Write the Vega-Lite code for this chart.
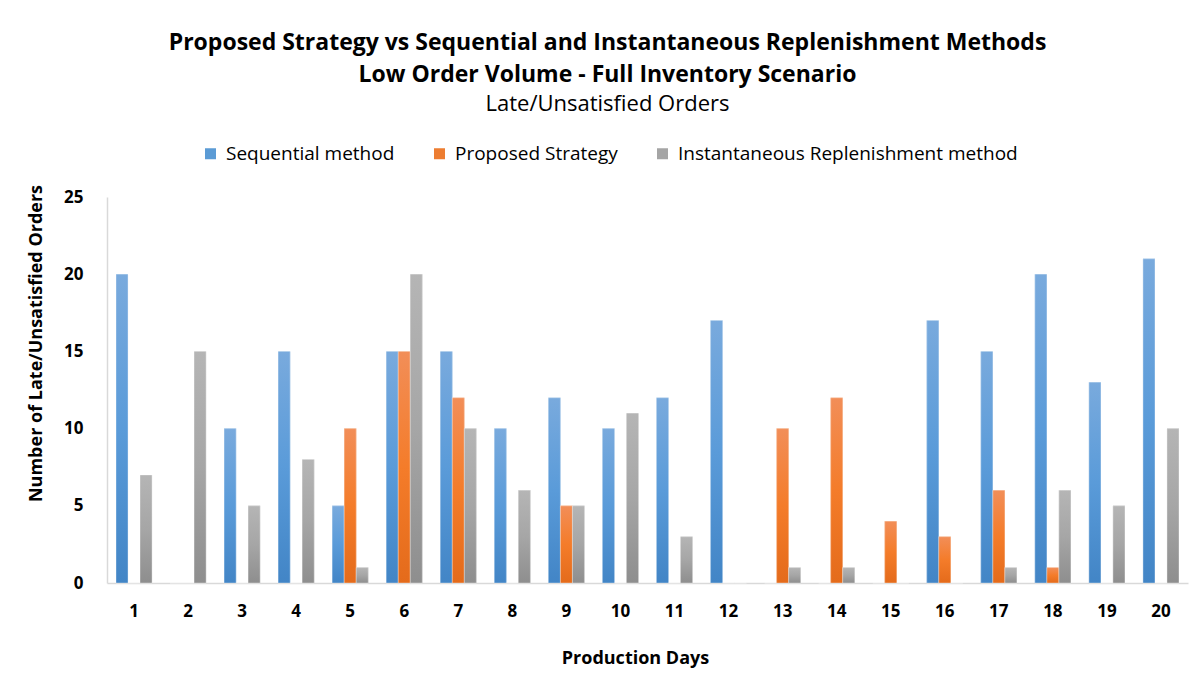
{
  "$schema": "https://vega.github.io/schema/vega-lite/v6.json",
  "width": 1081,
  "height": 386,
  "autosize": "none",
  "padding": {"left": 107, "top": 197, "right": 15, "bottom": 98},
  "background": "white",
  "config": {
    "font": "Open Sans",
    "view": {"stroke": null},
    "axis": {"grid": false, "ticks": false, "domainColor": "#d9d9d9", "domainWidth": 1.5, "labelColor": "#000000", "titleColor": "#000000", "labelFontWeight": "bold", "titleFontWeight": "bold", "labelFontSize": 17, "titleFontSize": 18}
  },
  "title": {
    "text": ["Proposed Strategy vs Sequential and Instantaneous Replenishment Methods", "Low Order Volume - Full Inventory Scenario"],
    "subtitle": "Late/Unsatisfied Orders",
    "fontSize": 23,
    "fontWeight": "bold",
    "lineHeight": 32,
    "color": "#000000",
    "subtitleColor": "#000000",
    "subtitleFontSize": 22,
    "subtitleFontWeight": "normal",
    "subtitlePadding": 7,
    "anchor": "middle",
    "dx": -40,
    "offset": 29
  },
  "data": {
    "values": [
      {"day": 1, "series": "Sequential method", "value": 20}, {"day": 1, "series": "Proposed Strategy", "value": 0}, {"day": 1, "series": "Instantaneous Replenishment method", "value": 7},
      {"day": 2, "series": "Sequential method", "value": 0}, {"day": 2, "series": "Proposed Strategy", "value": 0}, {"day": 2, "series": "Instantaneous Replenishment method", "value": 15},
      {"day": 3, "series": "Sequential method", "value": 10}, {"day": 3, "series": "Proposed Strategy", "value": 0}, {"day": 3, "series": "Instantaneous Replenishment method", "value": 5},
      {"day": 4, "series": "Sequential method", "value": 15}, {"day": 4, "series": "Proposed Strategy", "value": 0}, {"day": 4, "series": "Instantaneous Replenishment method", "value": 8},
      {"day": 5, "series": "Sequential method", "value": 5}, {"day": 5, "series": "Proposed Strategy", "value": 10}, {"day": 5, "series": "Instantaneous Replenishment method", "value": 1},
      {"day": 6, "series": "Sequential method", "value": 15}, {"day": 6, "series": "Proposed Strategy", "value": 15}, {"day": 6, "series": "Instantaneous Replenishment method", "value": 20},
      {"day": 7, "series": "Sequential method", "value": 15}, {"day": 7, "series": "Proposed Strategy", "value": 12}, {"day": 7, "series": "Instantaneous Replenishment method", "value": 10},
      {"day": 8, "series": "Sequential method", "value": 10}, {"day": 8, "series": "Proposed Strategy", "value": 0}, {"day": 8, "series": "Instantaneous Replenishment method", "value": 6},
      {"day": 9, "series": "Sequential method", "value": 12}, {"day": 9, "series": "Proposed Strategy", "value": 5}, {"day": 9, "series": "Instantaneous Replenishment method", "value": 5},
      {"day": 10, "series": "Sequential method", "value": 10}, {"day": 10, "series": "Proposed Strategy", "value": 0}, {"day": 10, "series": "Instantaneous Replenishment method", "value": 11},
      {"day": 11, "series": "Sequential method", "value": 12}, {"day": 11, "series": "Proposed Strategy", "value": 0}, {"day": 11, "series": "Instantaneous Replenishment method", "value": 3},
      {"day": 12, "series": "Sequential method", "value": 17}, {"day": 12, "series": "Proposed Strategy", "value": 0}, {"day": 12, "series": "Instantaneous Replenishment method", "value": 0},
      {"day": 13, "series": "Sequential method", "value": 0}, {"day": 13, "series": "Proposed Strategy", "value": 10}, {"day": 13, "series": "Instantaneous Replenishment method", "value": 1},
      {"day": 14, "series": "Sequential method", "value": 0}, {"day": 14, "series": "Proposed Strategy", "value": 12}, {"day": 14, "series": "Instantaneous Replenishment method", "value": 1},
      {"day": 15, "series": "Sequential method", "value": 0}, {"day": 15, "series": "Proposed Strategy", "value": 4}, {"day": 15, "series": "Instantaneous Replenishment method", "value": 0},
      {"day": 16, "series": "Sequential method", "value": 17}, {"day": 16, "series": "Proposed Strategy", "value": 3}, {"day": 16, "series": "Instantaneous Replenishment method", "value": 0},
      {"day": 17, "series": "Sequential method", "value": 15}, {"day": 17, "series": "Proposed Strategy", "value": 6}, {"day": 17, "series": "Instantaneous Replenishment method", "value": 1},
      {"day": 18, "series": "Sequential method", "value": 20}, {"day": 18, "series": "Proposed Strategy", "value": 1}, {"day": 18, "series": "Instantaneous Replenishment method", "value": 6},
      {"day": 19, "series": "Sequential method", "value": 13}, {"day": 19, "series": "Proposed Strategy", "value": 0}, {"day": 19, "series": "Instantaneous Replenishment method", "value": 5},
      {"day": 20, "series": "Sequential method", "value": 21}, {"day": 20, "series": "Proposed Strategy", "value": 0}, {"day": 20, "series": "Instantaneous Replenishment method", "value": 10}
    ]
  },
  "encoding": {
    "x": {"field": "day", "type": "ordinal", "scale": {"paddingInner": 0.3333, "paddingOuter": 0.1667}, "axis": {"title": "Production Days", "labelAngle": 0, "labelPadding": 20, "titlePadding": 30, "titleX": 528}},
    "xOffset": {"field": "series", "type": "nominal", "sort": ["Sequential method", "Proposed Strategy", "Instantaneous Replenishment method"], "scale": {"paddingInner": 0, "paddingOuter": 0}},
    "y": {"field": "value", "type": "quantitative", "scale": {"domain": [0, 25]}, "axis": {"title": "Number of Late/Unsatisfied Orders", "values": [0, 5, 10, 15, 20, 25], "labelPadding": 24, "titlePadding": 18, "titleY": 146}}
  },
  "layer": [
    {
      "mark": {"type": "bar"},
      "encoding": {
        "color": {"field": "series", "type": "nominal", "sort": ["Sequential method", "Proposed Strategy", "Instantaneous Replenishment method"],
          "scale": {"domain": ["Sequential method", "Proposed Strategy", "Instantaneous Replenishment method"], "range": ["#5b9bd5", "#ed7d31", "#a5a5a5"]},
          "legend": {"orient": "none", "legendX": 94, "legendY": -53, "direction": "horizontal", "title": null, "symbolType": "square", "symbolSize": 121, "symbolStrokeWidth": 0, "labelFontSize": 19, "labelLimit": 500, "labelColor": "#000000", "columnPadding": 35, "labelOffset": 6}}
      }
    },
    {
      "mark": {"type": "bar", "stroke": "#ffffff", "strokeOpacity": 0.35, "strokeWidth": 1},
      "encoding": {
        "fill": {
          "condition": [
            {"test": "datum.series === 'Sequential method'", "value": {"gradient": "linear", "x1": 0, "y1": 0, "x2": 0, "y2": 1, "stops": [{"offset": 0, "color": "#79aadd"}, {"offset": 0.5, "color": "#5a9bd9"}, {"offset": 1, "color": "#4285c6"}]}},
            {"test": "datum.series === 'Proposed Strategy'", "value": {"gradient": "linear", "x1": 0, "y1": 0, "x2": 0, "y2": 1, "stops": [{"offset": 0, "color": "#f28e58"}, {"offset": 0.5, "color": "#f47c2a"}, {"offset": 1, "color": "#e46b1b"}]}}
          ],
          "value": {"gradient": "linear", "x1": 0, "y1": 0, "x2": 0, "y2": 1, "stops": [{"offset": 0, "color": "#b5b5b5"}, {"offset": 0.5, "color": "#a6a6a6"}, {"offset": 1, "color": "#8e8e8e"}]}
        }
      }
    }
  ]
}
